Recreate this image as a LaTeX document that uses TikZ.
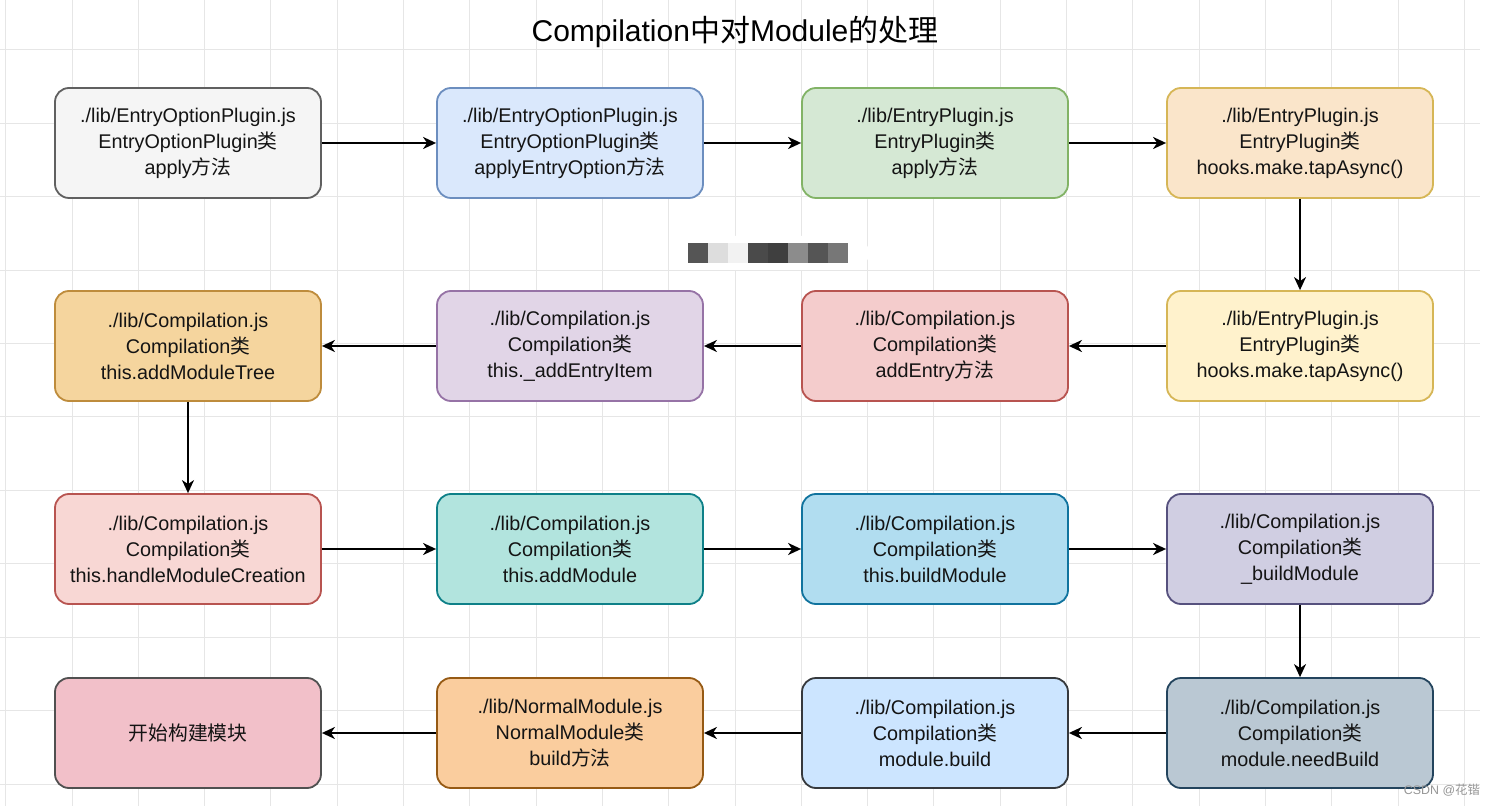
\documentclass[tikz,border=0pt]{standalone}
\usepackage{fontspec}
\setmainfont{Liberation Sans}
\newfontfamily\cjk{Noto Sans CJK SC}
\newcommand\zh[1]{{\cjk #1}}
\usetikzlibrary{arrows.meta}
\definecolor{txt}{HTML}{141414}
\definecolor{gridc}{HTML}{E6E6E6}
\definecolor{wmc}{HTML}{969696}
\definecolor{fA1}{HTML}{F5F5F5}\definecolor{sA1}{HTML}{606060}
\definecolor{fA2}{HTML}{DAE8FC}\definecolor{sA2}{HTML}{6C8EBF}
\definecolor{fA3}{HTML}{D5E8D4}\definecolor{sA3}{HTML}{82B366}
\definecolor{fA4}{HTML}{FAE5CA}\definecolor{sA4}{HTML}{D6B656}
\definecolor{fB4}{HTML}{FFF2CC}\definecolor{sB4}{HTML}{D6B656}
\definecolor{fB3}{HTML}{F4CCCC}\definecolor{sB3}{HTML}{B85450}
\definecolor{fB2}{HTML}{E1D5E7}\definecolor{sB2}{HTML}{9673A6}
\definecolor{fB1}{HTML}{F5D59E}\definecolor{sB1}{HTML}{BE8C3C}
\definecolor{fC1}{HTML}{F8D7D4}\definecolor{sC1}{HTML}{B85450}
\definecolor{fC2}{HTML}{B2E4DE}\definecolor{sC2}{HTML}{0E8088}
\definecolor{fC3}{HTML}{B1DDF0}\definecolor{sC3}{HTML}{10739E}
\definecolor{fC4}{HTML}{D0CEE2}\definecolor{sC4}{HTML}{56517E}
\definecolor{fD4}{HTML}{BAC8D3}\definecolor{sD4}{HTML}{23445D}
\definecolor{fD3}{HTML}{CCE5FF}\definecolor{sD3}{HTML}{36393D}
\definecolor{fD2}{HTML}{FACD9E}\definecolor{sD2}{HTML}{965A14}
\definecolor{fD1}{HTML}{F2C0C9}\definecolor{sD1}{HTML}{505050}
\definecolor{p1}{HTML}{555555}\definecolor{p2}{HTML}{DDDDDD}
\definecolor{p3}{HTML}{F2F2F2}\definecolor{p4}{HTML}{4A4A4A}
\definecolor{p5}{HTML}{3F3F3F}\definecolor{p6}{HTML}{8C8C8C}
\definecolor{p7}{HTML}{555555}\definecolor{p8}{HTML}{777777}
\tikzset{
  box/.style={draw, rounded corners=7pt, minimum width=133pt, minimum height=55pt,
    align=center, line width=0.9pt, inner sep=0pt, text=txt,
    font=\fontsize{9.9}{13}\selectfont},
  arr/.style={line width=1.1pt, -{Stealth[length=6.5pt,width=6pt,inset=2pt]}},
  varr/.style={line width=0.85pt, -{Stealth[length=6.5pt,width=6pt,inset=2pt]}},
  gridline/.style={draw=gridc, line width=0.5pt},
}
\begin{document}
\begin{tikzpicture}[x=0.5pt,y=-0.5pt]
\useasboundingbox (0,0) rectangle (1498,806);
\fill[white] (0,0) rectangle (1498,806);
% grid
\foreach \i in {0,...,22} \draw[gridline] ({5.7+66.3*\i},0) -- ({5.7+66.3*\i},806);
\foreach \j in {0,...,10} \draw[gridline] (0,{50+73.4*\j}) -- (1480,{50+73.4*\j});
% title
\node[font=\fontsize{15}{18}\selectfont, text=black] (title) at (735,32) {Compilation\zh{中对}Module\zh{的处理}};
% blurred patch
\fill[white, rounded corners=10pt] (670,236) rectangle (870,270);
\fill[p1] (688,243) rectangle (708,263);
\fill[p2] (708,243) rectangle (728,263);
\fill[p3] (728,243) rectangle (748,263);
\fill[p4] (748,243) rectangle (768,263);
\fill[p5] (768,243) rectangle (788,263);
\fill[p6] (788,243) rectangle (808,263);
\fill[p7] (808,243) rectangle (828,263);
\fill[p8] (828,243) rectangle (848,263);
% row 1
\node[box, fill=fA1, draw=sA1] (a1) at (188,143) {./lib/EntryOptionPlugin.js\\EntryOptionPlugin\zh{类}\\apply\zh{方法}};
\node[box, fill=fA2, draw=sA2] (a2) at (570,143) {./lib/EntryOptionPlugin.js\\EntryOptionPlugin\zh{类}\\applyEntryOption\zh{方法}};
\node[box, fill=fA3, draw=sA3] (a3) at (935,143) {./lib/EntryPlugin.js\\EntryPlugin\zh{类}\\apply\zh{方法}};
\node[box, fill=fA4, draw=sA4] (a4) at (1300,143) {./lib/EntryPlugin.js\\EntryPlugin\zh{类}\\hooks.make.tapAsync()};
% row 2
\node[box, fill=fB4, draw=sB4] (b4) at (1300,346) {./lib/EntryPlugin.js\\EntryPlugin\zh{类}\\hooks.make.tapAsync()};
\node[box, fill=fB3, draw=sB3] (b3) at (935,346) {./lib/Compilation.js\\Compilation\zh{类}\\addEntry\zh{方法}};
\node[box, fill=fB2, draw=sB2] (b2) at (570,346) {./lib/Compilation.js\\Compilation\zh{类}\\this.\_addEntryItem};
\node[box, fill=fB1, draw=sB1] (b1) at (188,346) {./lib/Compilation.js\\Compilation\zh{类}\\this.addModuleTree};
% row 3
\node[box, fill=fC1, draw=sC1] (c1) at (188,549) {./lib/Compilation.js\\Compilation\zh{类}\\this.handleModuleCreation};
\node[box, fill=fC2, draw=sC2] (c2) at (570,549) {./lib/Compilation.js\\Compilation\zh{类}\\this.addModule};
\node[box, fill=fC3, draw=sC3] (c3) at (935,549) {./lib/Compilation.js\\Compilation\zh{类}\\this.buildModule};
\node[box, fill=fC4, draw=sC4] (c4) at (1300,549) {./lib/Compilation.js\\Compilation\zh{类}\\\_buildModule};
% row 4
\node[box, fill=fD4, draw=sD4] (d4) at (1300,733) {./lib/Compilation.js\\Compilation\zh{类}\\module.needBuild};
\node[box, fill=fD3, draw=sD3] (d3) at (935,733) {./lib/Compilation.js\\Compilation\zh{类}\\module.build};
\node[box, fill=fD2, draw=sD2] (d2) at (570,733) {./lib/NormalModule.js\\NormalModule\zh{类}\\build\zh{方法}};
\node[box, fill=fD1, draw=sD1] (d1) at (188,733) {\zh{开始构建模块}};
% connectors
\draw[arr] (a1) -- (a2);
\draw[arr] (a2) -- (a3);
\draw[arr] (a3) -- (a4);
\draw[varr] (a4) -- (b4);
\draw[arr] (b4) -- (b3);
\draw[arr] (b3) -- (b2);
\draw[arr] (b2) -- (b1);
\draw[varr] (b1) -- (c1);
\draw[arr] (c1) -- (c2);
\draw[arr] (c2) -- (c3);
\draw[arr] (c3) -- (c4);
\draw[varr] (c4) -- (d4);
\draw[arr] (d4) -- (d3);
\draw[arr] (d3) -- (d2);
\draw[arr] (d2) -- (d1);
% watermark
\node[font=\fontsize{6.2}{7}\selectfont, text=wmc, anchor=east] (wm) at (1487,790) {CSDN @\zh{花锴}};
\end{tikzpicture}
\end{document}
